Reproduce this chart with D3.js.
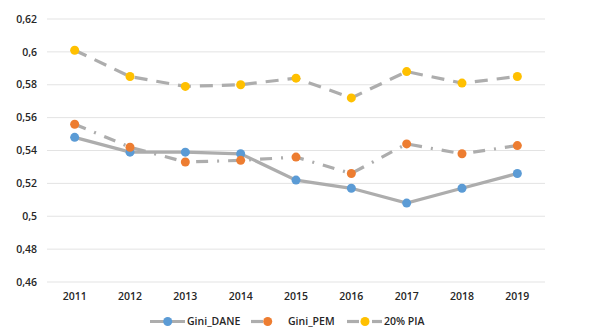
<!DOCTYPE html>
<html>
<head>
<meta charset="utf-8">
<script src="https://cdn.jsdelivr.net/npm/d3@7"></script>
<style>
  body { margin: 0; background: #fff; }
  text { font-family: "Open Sans", "Liberation Sans", sans-serif; }
</style>
</head>
<body>
<div id="chart"></div>
<script>
const years = ["2011", "2012", "2013", "2014", "2015", "2016", "2017", "2018", "2019"];
const giniDane = [0.548, 0.539, 0.539, 0.538, 0.522, 0.517, 0.508, 0.517, 0.526];
const giniPem = [0.556, 0.542, 0.533, 0.534, 0.536, 0.526, 0.544, 0.538, 0.543];
const pia20 = [0.601, 0.585, 0.579, 0.580, 0.584, 0.572, 0.588, 0.581, 0.585];
const yTicks = [0.46, 0.48, 0.5, 0.52, 0.54, 0.56, 0.58, 0.6, 0.62];
const seriesNames = ["Gini_DANE", "Gini_PEM", "20% PIA"];

const width = 589,
      height = 334;
const plotLeft = 47, plotRight = 545, plotTop = 19, plotBottom = 282;

const series = [
  { name: seriesNames[0], values: giniDane, color: "#5B9BD5", dash: null },
  { name: seriesNames[1], values: giniPem, color: "#ED7D31", dash: "12,9,2,9" },
  { name: seriesNames[2], values: pia20, color: "#FFC000", dash: "13,9" }
];

const svg = d3.select("#chart")
  .append("svg")
  .attr("width", width)
  .attr("height", height);

const x = d3.scaleBand()
  .domain(years)
  .range([plotLeft, plotRight]);

const y = d3.scaleLinear()
  .domain([0.46, 0.62])
  .range([plotBottom, plotTop]);

// gridlines
svg.append("g")
  .selectAll("line")
  .data(yTicks)
  .join("line")
  .attr("x1", plotLeft)
  .attr("x2", plotRight)
  .attr("y1", d => y(d))
  .attr("y2", d => y(d))
  .attr("stroke", "#E3E3E3")
  .attr("stroke-width", 1);

// y labels
const fmt = d => String(+d.toFixed(2)).replace(".", ",");
svg.append("g")
  .selectAll("text")
  .data(yTicks)
  .join("text")
  .attr("x", 37)
  .attr("y", d => y(d))
  .attr("dy", "0.35em")
  .attr("text-anchor", "end")
  .attr("font-size", "10.5px")
  .attr("font-weight", 600)
  .attr("fill", "#262626")
  .text(fmt);

// x labels
svg.append("g")
  .selectAll("text")
  .data(years)
  .join("text")
  .attr("x", d => x(d) + x.bandwidth() / 2)
  .attr("y", 296)
  .attr("dy", "0.35em")
  .attr("text-anchor", "middle")
  .attr("font-size", "10.5px")
  .attr("font-weight", 600)
  .attr("fill", "#262626")
  .text(d => d);

const line = d3.line()
  .x((d, i) => x(years[i]) + x.bandwidth() / 2)
  .y(d => y(d));

series.forEach(s => {
  svg.append("path")
    .datum(s.values)
    .attr("fill", "none")
    .attr("stroke", "#ADADAD")
    .attr("stroke-width", 3.2)
    .attr("stroke-dasharray", s.dash)
    .attr("d", line);
});

series.forEach(s => {
  svg.append("g")
    .selectAll("circle")
    .data(s.values)
    .join("circle")
    .attr("cx", (d, i) => x(years[i]) + x.bandwidth() / 2)
    .attr("cy", d => y(d))
    .attr("r", 4.5)
    .attr("fill", s.color);
});

// legend
const legendY = 321.5;
const legendItems = [
  { x1: 150, x2: 185, mx: 167.7, tx: 187 },
  { x1: 251, x2: 276, mx: 267.7, tx: 288 },
  { x1: 347, x2: 382, mx: 365, tx: 384 }
];
series.forEach((s, i) => {
  const it = legendItems[i];
  const g = svg.append("g");
  if (i === 0) {
    g.append("line").attr("x1", it.x1).attr("x2", it.x2);
  } else if (i === 1) {
    g.append("line").attr("x1", it.x1).attr("x2", it.x1 + 12);
    g.append("line").attr("x1", it.x1 + 15).attr("x2", it.x2 - 5);
  } else {
    g.append("line").attr("x1", it.x1).attr("x2", it.x1 + 12);
    g.append("line").attr("x1", it.x1 + 15).attr("x2", it.x2 - 13);
    g.append("line").attr("x1", it.x2 - 10).attr("x2", it.x2);
  }
  g.selectAll("line")
    .attr("y1", legendY)
    .attr("y2", legendY)
    .attr("stroke", "#ADADAD")
    .attr("stroke-width", 3.2);
  g.append("circle")
    .attr("cx", it.mx)
    .attr("cy", legendY)
    .attr("r", 4.5)
    .attr("fill", s.color);
  g.append("text")
    .attr("x", it.tx)
    .attr("y", legendY)
    .attr("dy", "0.35em")
    .attr("font-size", "10.5px")
    .attr("font-weight", 600)
    .attr("fill", "#262626")
    .text(s.name);
});
</script>
</body>
</html>
